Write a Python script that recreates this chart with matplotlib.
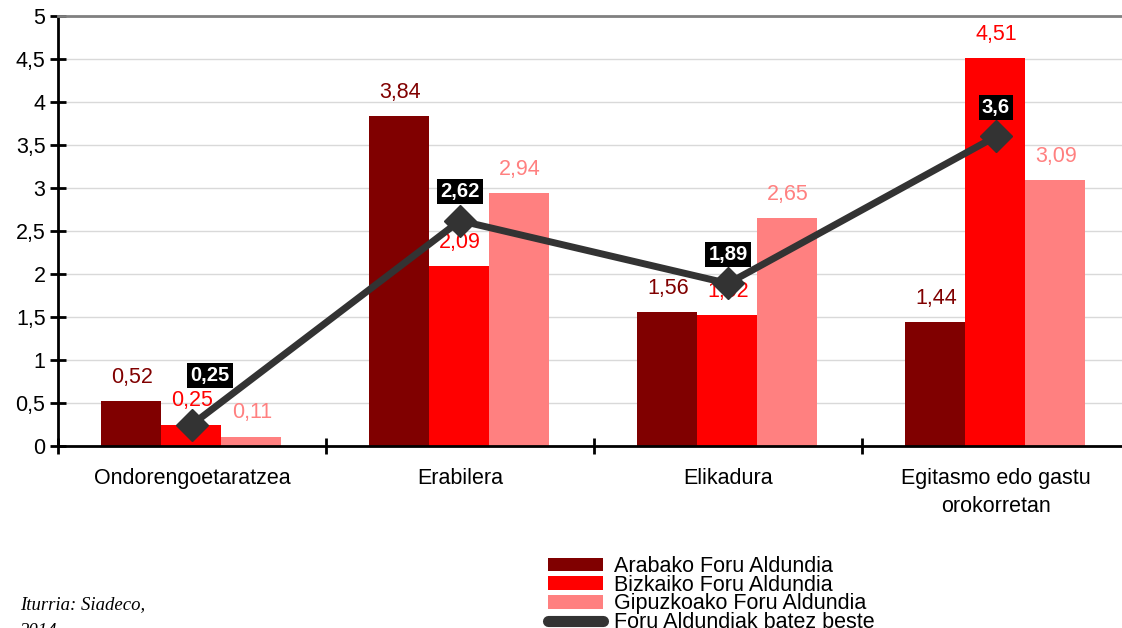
import matplotlib
matplotlib.use("Agg")
from matplotlib import pyplot as plt
from matplotlib.ticker import FuncFormatter, FixedLocator
from matplotlib.lines import Line2D
import numpy as np

categories = ["Ondorengoetaratzea", "Erabilera", "Elikadura", "Egitasmo edo gastu\norokorretan"]
araba = [0.52, 3.84, 1.56, 1.44]
bizkaia = [0.25, 2.09, 1.52, 4.51]
gipuzkoa = [0.11, 2.94, 2.65, 3.09]
batez_beste = [0.25, 2.62, 1.89, 3.6]
series_names = ["Arabako Foru Aldundia", "Bizkaiko Foru Aldundia",
                "Gipuzkoako Foru Aldundia", "Foru Aldundiak batez beste"]

plt.rcParams['font.family'] = ['Liberation Sans', 'DejaVu Sans']

def comma(v):
    s = ("%.2f" % v).rstrip('0').rstrip('.')
    return s.replace('.', ',')

fig = plt.figure(figsize=(11.22, 6.28), dpi=100)
ax = fig.add_axes([58/1122, 182/628, 1064/1122, 430/628])

x = np.arange(len(categories))
w = 0.224
cols = ["#800000", "#ff0000", "#ff8080"]
bars = []
for k, vals in enumerate([araba, bizkaia, gipuzkoa]):
    b = ax.bar(x + (k - 1) * w - 0.004, vals, w, color=cols[k], label=series_names[k], zorder=2)
    bars.append(b)
    for xi, v in zip(x + (k - 1) * w, vals):
        ax.annotate(comma(v), (xi, v), xytext=(0, 17), textcoords='offset points',
                    ha='center', va='center', color=cols[k], fontsize=15.5, zorder=3)

# batez bestekoa: lerroa + etiketa beltzak
ln, = ax.plot(x, batez_beste, color="#333333", lw=5, marker='D', ms=16,
              label=series_names[3], zorder=4)
for i, (xi, v) in enumerate(zip(x, batez_beste)):
    dy = 35 if i == 0 else 21
    dx = 13 if i == 0 else 0
    ax.annotate(comma(v), (xi, v), xytext=(dx, dy), textcoords='offset points',
                ha='center', va='center', color='white', fontsize=14.5, fontweight='bold',
                bbox=dict(boxstyle='square,pad=0.15', fc='black', ec='none'), zorder=5)

ax.set_xlim(-0.5, -0.5 + 1064/268)
ax.set_ylim(0, 5)
ax.set_yticks(np.arange(0, 5.01, 0.5))
ax.yaxis.set_major_formatter(FuncFormatter(lambda v, p: comma(v)))
ax.grid(axis='y', color='#d9d9d9', lw=1, zorder=0)
ax.set_axisbelow(True)

ax.set_xticks(x)
ax.set_xticklabels(categories, linespacing=1.4)
ax.xaxis.set_minor_locator(FixedLocator([-0.5, 0.5, 1.5, 2.5, 3.5]))
ax.tick_params(axis='x', which='major', length=0, pad=16, labelsize=15.5)
ax.tick_params(axis='x', which='minor', direction='inout', length=12, width=2)
ax.tick_params(axis='y', direction='inout', length=12, width=2, labelsize=15.5, pad=3)

for s in ['left', 'bottom']:
    ax.spines[s].set_linewidth(2)
    ax.spines[s].set_color('black')
ax.spines['right'].set_visible(False)
ax.spines['top'].set_color('#808080')
ax.spines['top'].set_linewidth(2)

handles = bars + [Line2D([0], [0], color="#333333", lw=8, solid_capstyle='round')]
fig.legend(handles, series_names, loc='upper left', bbox_to_anchor=(548/1122, 1 - 556/628),
           frameon=False, fontsize=15.5, labelspacing=-0.11, handlelength=2.56,
           handleheight=0.6, handletextpad=0.5, borderpad=0, borderaxespad=0)

fig.text(20/1122, 1 - 596/628, "Iturria: Siadeco,\n2014", fontsize=13.5, style='italic',
         family=['Liberation Serif', 'DejaVu Sans'],
         va='top', ha='left', linespacing=1.75)

fig.savefig("out.png", dpi=100)
